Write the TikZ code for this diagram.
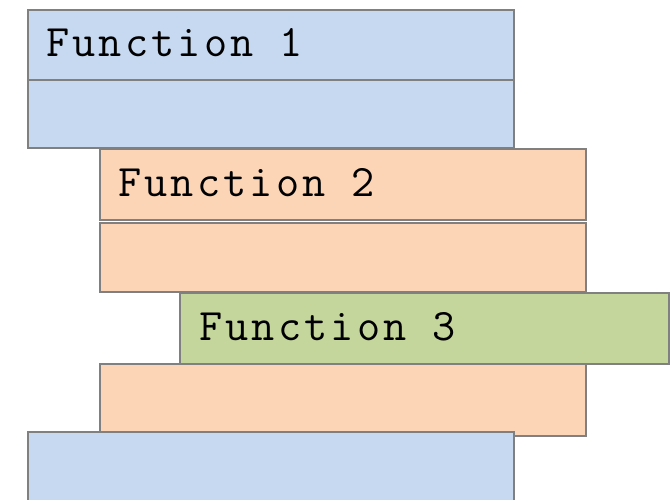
\documentclass[tikz,border=0pt]{standalone}
\usepackage{fontspec}
\setmonofont{Latin Modern Mono}[LetterSpace=7]
\definecolor{fblue}{HTML}{C6D9F1}
\definecolor{forange}{HTML}{FBD5B5}
\definecolor{fgreen}{HTML}{C4D69B}
\definecolor{fborder}{HTML}{808080}
\begin{document}
\begin{tikzpicture}[x=1pt,y=-1pt,
  box/.style={draw=fborder, line width=2pt, rectangle, inner sep=0pt, anchor=north west},
  lbl/.style={anchor=base west, inner sep=0pt, font=\ttfamily\fontsize{45}{52}\selectfont}]
\useasboundingbox (0,0) rectangle (672,499);
\clip (0,0) rectangle (672,499);
% Function 1 frame
\node[box, fill=fblue, minimum width=486pt, minimum height=70pt] (f1a) at (27,9) {};
\node[box, fill=fblue, minimum width=486pt, minimum height=68pt] (f1b) at (27,79) {};
% Function 2 frame
\node[box, fill=forange, minimum width=486pt, minimum height=71pt] (f2a) at (99,148) {};
\node[box, fill=forange, minimum width=486pt, minimum height=69pt] (f2b) at (99,222) {};
% Function 3 frame
\node[box, fill=fgreen, minimum width=489pt, minimum height=71pt] (f3) at (179,292) {};
% Function 2 lower
\node[box, fill=forange, minimum width=486pt, minimum height=72pt] (f2c) at (99,363) {};
% Function 1 lower
\node[box, fill=fblue, minimum width=486pt, minimum height=90pt] (f1c) at (27,431) {};
% labels
\node[lbl] (t1) at (46,56) {Function 1};
\node[lbl] (t2) at (118,196) {Function 2};
\node[lbl] (t3) at (199,340) {Function 3};
\end{tikzpicture}
\end{document}
